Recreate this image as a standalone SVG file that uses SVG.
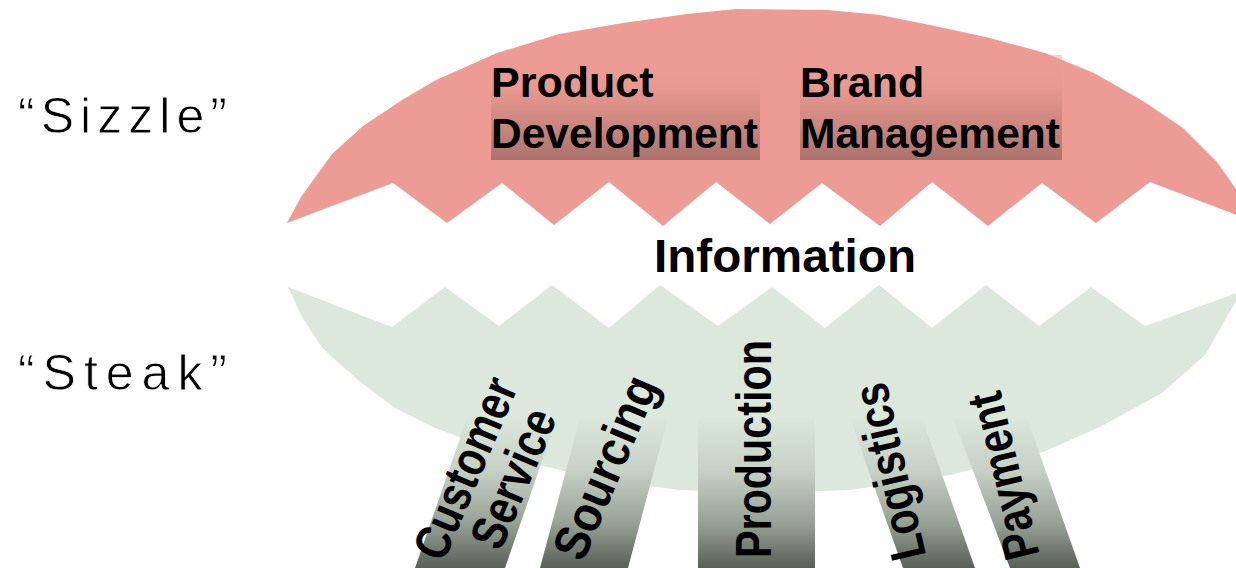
<svg xmlns="http://www.w3.org/2000/svg" width="1236" height="568" viewBox="0 0 1236 568">
  <style>
    .side { font-family: "Liberation Sans", Arial, sans-serif; font-size: 50px; fill: #000; stroke: #fff; stroke-width: 0.8px; }
    .bold { font-family: "Liberation Sans", Arial, sans-serif; font-weight: bold; fill: #000; }
    .bar { fill: url(#barGrad); }
  </style>
  <defs>
    <linearGradient id="barGrad" gradientUnits="userSpaceOnUse" x1="0" y1="418" x2="0" y2="568">
      <stop offset="0" stop-color="#dbe7db"/>
      <stop offset="0.35" stop-color="#c6d0c5"/>
      <stop offset="0.7" stop-color="#97a195"/>
      <stop offset="1" stop-color="#596057"/>
    </linearGradient>
    <linearGradient id="boxGrad" x1="0" y1="0" x2="0" y2="1">
      <stop offset="0" stop-color="#ec9b94" stop-opacity="0.45"/>
      <stop offset="0.3" stop-color="#e8998f" stop-opacity="0.85"/>
      <stop offset="1" stop-color="#aa726d"/>
    </linearGradient>
  </defs>

  <g id="sizzle-shape">
    <polygon fill="#ed9c95" points="287,223 301,197 332,154 363,126 402,100 436,80 497,53 559,34 623,23 687,14 736,9 828,10 880,15 935,26 990,38 1045,53 1094,73 1143,101 1183,128 1217,162 1238,192 1242,217 1150,182 1096,223 1042,183 988,226 932,182 880,226 822,183 770,224 716,182 663,226 609,182 554,225 502,183 447,223 393,183"/>
  </g>

  <g id="steak-shape">
    <polygon fill="#dce8dc" points="288,287 392,327 445,287 499,326 552,285 609,328 660,285 718,326 772,287 825,328 879,285 932,328 986,285 1039,326 1091,287 1145,326 1242,291 1232,308 1205,355 1162,393 1100,427 1043,452 950,475 850,490 765,493 680,490 600,480 520,460 462,438 435,428 395,408 358,380 322,348 302,317"/>
  </g>

  <g id="sizzle-label">
    <text class="side" x="18" y="133" textLength="209" lengthAdjust="spacing">“Sizzle”</text>
  </g>
  <g id="steak-label">
    <text class="side" x="18" y="390" textLength="209" lengthAdjust="spacing">“Steak”</text>
  </g>

  <g id="product-development">
    <rect x="491" y="55" width="269" height="105" fill="url(#boxGrad)"/>
    <text class="bold" font-size="43" x="491" y="97">Product</text>
    <text class="bold" font-size="43" x="491" y="148" textLength="267" lengthAdjust="spacingAndGlyphs">Development</text>
  </g>

  <g id="brand-management">
    <rect x="800" y="55" width="262" height="105" fill="url(#boxGrad)"/>
    <text class="bold" font-size="43" x="800" y="97">Brand</text>
    <text class="bold" font-size="43" x="800" y="148" textLength="260" lengthAdjust="spacingAndGlyphs">Management</text>
  </g>

  <g id="information">
    <text class="bold" font-size="47" x="654" y="272" textLength="262" lengthAdjust="spacingAndGlyphs">Information</text>
  </g>

  <g id="customer-service">
    <polygon class="bar" points="467,418 557,418 505,568 415,568"/>
    <text class="bold" font-size="50" text-anchor="middle" transform="translate(481,475) rotate(-67)" textLength="192" lengthAdjust="spacingAndGlyphs">Customer</text>
    <text class="bold" font-size="50" text-anchor="middle" transform="translate(529,485) rotate(-67)" textLength="146" lengthAdjust="spacingAndGlyphs">Service</text>
  </g>

  <g id="sourcing">
    <polygon class="bar" points="580,418 668,418 628,568 540,568"/>
    <text class="bold" font-size="50" text-anchor="middle" transform="translate(621,474) rotate(-67)" textLength="194" lengthAdjust="spacingAndGlyphs">Sourcing</text>
  </g>

  <g id="production">
    <rect class="bar" x="698" y="417" width="117" height="151"/>
    <text class="bold" font-size="50" transform="translate(771,558) rotate(-90)" textLength="218" lengthAdjust="spacingAndGlyphs">Production</text>
  </g>

  <g id="logistics">
    <polygon class="bar" points="850,418 922,418 975,568 903,568"/>
    <text class="bold" font-size="50" text-anchor="middle" transform="translate(906,468) rotate(-103)" textLength="180" lengthAdjust="spacingAndGlyphs">Logistics</text>
  </g>

  <g id="payment">
    <polygon class="bar" points="953,418 1027,418 1080,568 1010,568"/>
    <text class="bold" font-size="50" text-anchor="middle" transform="translate(1020,472) rotate(-103.5)" textLength="170" lengthAdjust="spacingAndGlyphs">Payment</text>
  </g>

  <g id="connectors"/>
</svg>
